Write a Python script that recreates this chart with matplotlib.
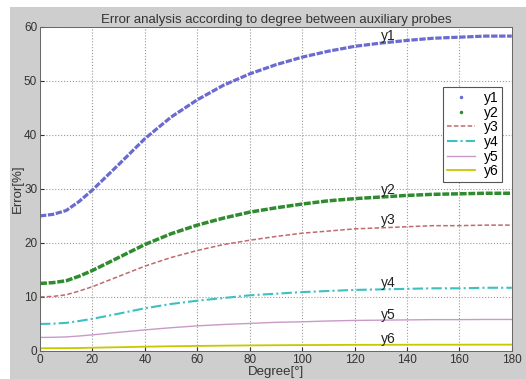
import matplotlib
matplotlib.use("Agg")
from matplotlib import pyplot as plt
from matplotlib.lines import Line2D
from matplotlib.patches import Rectangle

plt.rcParams['font.family'] = ['Liberation Sans', 'DejaVu Sans']

# degree between auxiliary probes
degree = [0, 5, 10, 15, 20, 30, 40, 50, 60, 70, 80, 90, 100, 110, 120, 130, 140, 150, 160, 170, 180]

# error curves [%]
y1 = [25.0, 25.3, 26.0, 27.7, 29.8, 34.5, 39.3, 43.3, 46.5, 49.2, 51.3, 53.0, 54.4, 55.5, 56.4, 57.0, 57.5, 57.9, 58.1, 58.3, 58.3]
y2 = [12.5, 12.65, 13.0, 13.85, 14.9, 17.3, 19.7, 21.7, 23.3, 24.6, 25.7, 26.5, 27.2, 27.8, 28.2, 28.5, 28.8, 29.0, 29.1, 29.2, 29.2]
y3 = [10.0, 10.1, 10.4, 11.1, 11.9, 13.8, 15.7, 17.3, 18.6, 19.7, 20.5, 21.2, 21.8, 22.2, 22.6, 22.8, 23.0, 23.2, 23.2, 23.3, 23.3]
y4 = [5.0, 5.05, 5.2, 5.55, 5.95, 6.9, 7.9, 8.7, 9.3, 9.8, 10.3, 10.6, 10.9, 11.1, 11.3, 11.4, 11.5, 11.6, 11.6, 11.7, 11.7]
y5 = [2.5, 2.53, 2.6, 2.77, 2.98, 3.45, 3.9, 4.3, 4.65, 4.9, 5.1, 5.3, 5.4, 5.55, 5.65, 5.7, 5.75, 5.8, 5.8, 5.83, 5.83]
y6 = [0.5, 0.51, 0.52, 0.55, 0.6, 0.69, 0.79, 0.87, 0.93, 0.98, 1.03, 1.06, 1.09, 1.11, 1.13, 1.14, 1.15, 1.16, 1.16, 1.17, 1.17]

names = ['y1', 'y2', 'y3', 'y4', 'y5', 'y6']
label_x = 130
label_y = [58.4, 29.8, 24.3, 12.5, 6.6, 2.2]

fig = plt.figure(figsize=(5.26, 3.79), dpi=100, facecolor='white')
# gray window area, with a thin white margin top and left
fig.patches.append(Rectangle((10 / 526, 0), 1, 1 - 7 / 379, transform=fig.transFigure,
                             facecolor='#cecece', edgecolor='none', zorder=-10))
ax = fig.add_axes([0.076, 0.074, 0.897, 0.855])
ax.set_facecolor('white')

# y1, y2 were drawn as dense point markers -> thick finely broken lines
ax.plot(degree, y1, color='#6a6ad0', lw=2.3, linestyle=(0, (2, 0.5)))
ax.plot(degree, y2, color='#2e8b2e', lw=2.5, linestyle=(0, (2, 0.5)))
ax.plot(degree, y3, color='#c06a6a', lw=1.1, linestyle='--', dashes=(3, 1.5))
ax.plot(degree, y4, color='#3cc0c0', lw=1.5, linestyle='-.', dashes=(5, 1.5, 1, 1.5))
ax.plot(degree, y5, color='#c89ac8', lw=1.0)
ax.plot(degree, y6, color='#c8c800', lw=1.3)

for name, yy in zip(names, label_y):
    ax.text(label_x, yy, name, fontsize=10, va='center', ha='left', color='#222222')

ax.set_xlim(0, 180)
ax.set_ylim(0, 60)
ax.set_xticks(range(0, 181, 20))
ax.set_yticks(range(0, 61, 10))
ax.grid(True, color='#999999', linestyle=':', linewidth=0.8)
ax.tick_params(direction='in', labelsize=8.5, colors='#333333', length=3, pad=2)
for sp in ax.spines.values():
    sp.set_color('#666666')
    sp.set_linewidth(0.7)

ax.set_title('Error analysis according to degree between auxiliary probes',
             fontsize=9.5, color='#333333', pad=3)
ax.set_xlabel('Degree[°]', fontsize=9.5, color='#333333', labelpad=0)
ax.set_ylabel('Error[%]', fontsize=9.5, color='#333333', labelpad=0)

handles = [
    Line2D([], [], color='#6a6ad0', marker='.', linestyle='none', markersize=3),
    Line2D([], [], color='#2e8b2e', marker='.', linestyle='none', markersize=3),
    Line2D([], [], color='#c06a6a', lw=1.1, linestyle='--', dashes=(3, 1.5)),
    Line2D([], [], color='#3cc0c0', lw=1.5, linestyle='-.', dashes=(5, 1.5, 1, 1.5)),
    Line2D([], [], color='#c89ac8', lw=1.0),
    Line2D([], [], color='#c8c800', lw=1.3),
]
leg = ax.legend(handles, names, loc='upper right', bbox_to_anchor=(0.995, 0.837),
                fontsize=10, handlelength=2.0, labelspacing=0.05, borderpad=0.3,
                handletextpad=0.6, fancybox=False, framealpha=1)
leg.get_frame().set_edgecolor('#555555')
leg.get_frame().set_linewidth(0.8)

fig.savefig('out.png', dpi=100, facecolor=fig.get_facecolor())
